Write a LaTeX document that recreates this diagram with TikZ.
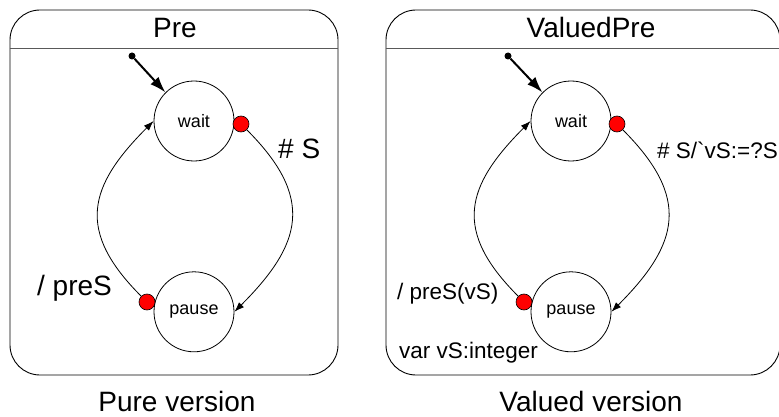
\documentclass[tikz,border=0pt]{standalone}
\usepackage{fontspec}
\setmainfont{Liberation Sans}
\usetikzlibrary{positioning, arrows.meta}

\begin{document}
\begin{tikzpicture}[
        x=1pt, y=-1pt,
        node distance=110pt,
        frame/.style={draw, rectangle, rounded corners=30pt, minimum width=#1, minimum height=365pt, line width=0.9pt},
        divider/.style={draw=black!65, line width=1pt},
        statenode/.style={draw, circle, minimum size=80pt, inner sep=0pt, line width=0.8pt, font=\fontsize{18}{20}\selectfont},
        exitdot/.style={draw, circle, fill=red, minimum size=16pt, inner sep=0pt, line width=0.6pt},
        initdot/.style={fill, circle, minimum size=7pt, inner sep=0pt},
        trans/.style={-{Latex[length=10pt,width=7pt]}, line width=0.8pt},
        initarrow/.style={-{Latex[length=16pt,width=11pt]}, line width=2pt},
        big/.style={font=\fontsize{28}{32}\selectfont, inner sep=0pt},
        small/.style={font=\fontsize{22.5}{26}\selectfont, inner sep=0pt}
        ]
        \useasboundingbox (0,0) rectangle (779,417);

        % pure version
        \node[frame=328pt] (preFrame) at (174,192.5) {};
        \draw[divider] (preFrame.west |- 0,49) -- (preFrame.east |- 0,49);
        \node[big, anchor=base] (preTitle) at (175,38) {Pre};

        \node[statenode] (preWait) at (194,121) {wait};
        \node[statenode, below=110pt of preWait] (prePause) {pause};
        \node[initdot] (preInit) at (132,56) {};
        \node[exitdot] (preWaitOut) at (241,124) {};
        \node[exitdot] (prePauseOut) at (147,302) {};

        \draw[initarrow] (preInit) -- (preWait.135);
        \draw[trans] (preWaitOut) to[out=-45, in=45, looseness=1.35] (prePause.east);
        \draw[trans] (prePauseOut) to[out=135, in=-135, looseness=1.35] (preWait.west);

        \node[big, anchor=base west] (preTrig) at (278,158) {\# S};
        \node[big, anchor=base west] (preEmit) at (37,295) {/ preS};
        \node[big, anchor=base] (preCaption) at (177,411) {Pure version};

        % valued version
        \node[frame=394pt] (valFrame) at (583,192.5) {};
        \draw[divider] (valFrame.west |- 0,49) -- (valFrame.east |- 0,49);
        \node[big, anchor=base] (valTitle) at (591,38) {ValuedPre};

        \node[statenode] (valWait) at (571,121) {wait};
        \node[statenode, below=110pt of valWait] (valPause) {pause};
        \node[initdot] (valInit) at (508,56) {};
        \node[exitdot] (valWaitOut) at (617,124) {};
        \node[exitdot] (valPauseOut) at (524,302) {};

        \draw[initarrow] (valInit) -- (valWait.135);
        \draw[trans] (valWaitOut) to[out=-45, in=45, looseness=1.35] (valPause.east);
        \draw[trans] (valPauseOut) to[out=135, in=-135, looseness=1.35] (valWait.west);

        \node[small, anchor=base west] (valTrig) at (657,158) {\# S/\textasciigrave vS:=?S};
        \node[small, anchor=base west] (valEmit) at (397,299) {/ preS(vS)};
        \node[small, anchor=base west] (valVar) at (399,358) {var vS:integer};
        \node[big, anchor=base] (valCaption) at (591,411) {Valued version};
    \end{tikzpicture}
\end{document}
